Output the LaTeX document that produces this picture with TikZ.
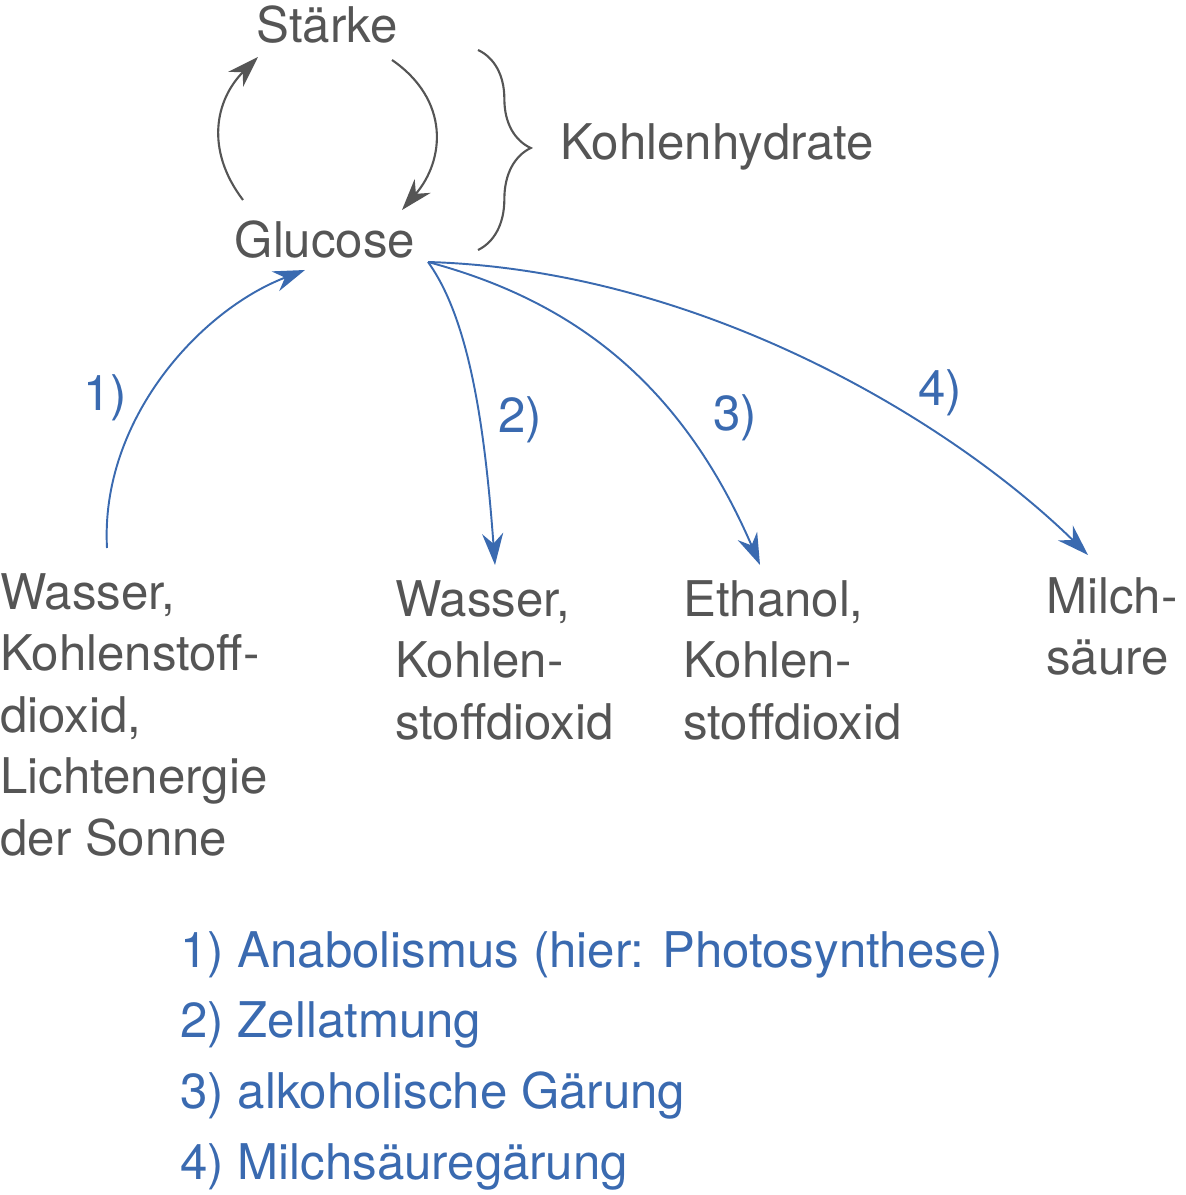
\documentclass[tikz,border=0pt]{standalone}
\usepackage{fontspec}
\setmainfont{TeX Gyre Heros}
\usetikzlibrary{arrows.meta,decorations.pathreplacing}
\definecolor{txtgray}{HTML}{555555}
\definecolor{pathblue}{HTML}{3A6AB0}
\tikzset{
  word/.style={text=txtgray, font=\fontsize{28}{35}\selectfont, inner sep=0pt},
  block/.style={word, align=left, anchor=north west},
  num/.style={text=pathblue, font=\fontsize{28}{35}\selectfont, inner sep=0pt},
  cycle/.style={draw=txtgray, line width=1.2pt, -{Stealth[length=18pt,width=12pt]}},
  path/.style={draw=pathblue, line width=1.1pt, -{Stealth[length=18pt,width=12pt]}}
}
\begin{document}
\begin{tikzpicture}[x=0.02cm, y=-0.02cm]
	\useasboundingbox (0,0) rectangle (1185,1195);

	\node[word] (staerke) at (327,25) {Stärke};
	\node[word] (glucose) at (325,240) {Glucose};
	\node[word, anchor=west] (kh) at (560,147) {Kohlenhydrate};

	\coordinate (c1) at (243,200);
	\coordinate (c2) at (258,57);
	\coordinate (c3) at (392,60);
	\coordinate (c4) at (402,210);
	\draw[cycle] (c1) .. controls (205,150) and (215,100) .. (c2);
	\draw[cycle] (c3) .. controls (450,100) and (445,160) .. (c4);

	\draw[draw=txtgray, line width=1.2pt, decorate,
	      decoration={brace, amplitude=30pt, aspect=0.49}] (478,50) -- (478,250);

	% Ausgangsstoffe und Produkte
	\node[block] (educt) at (0,573) {Wasser,\\Kohlenstoff-\\dioxid,\\Lichtenergie\\der Sonne};
	\node[block] (p2) at (395,580) {Wasser,\\Kohlen-\\stoffdioxid};
	\node[block] (p3) at (683,580) {Ethanol,\\Kohlen-\\stoffdioxid};
	\node[block] (p4) at (1046,577) {Milch-\\säure};

	\coordinate (s1) at (107,548);
	\coordinate (e1) at (305,270);
	\coordinate (g) at (428,262);
	\coordinate (e2) at (495,565);
	\coordinate (e3) at (760,565);
	\coordinate (e4) at (1088,555);
	\draw[path] (s1) .. controls (100,420) and (200,310) .. (e1);
	\draw[path] (g) .. controls (470,320) and (485,430) .. (e2);
	\draw[path] (g) .. controls (570,300) and (680,380) .. (e3);
	\draw[path] (g) .. controls (700,270) and (950,420) .. (e4);

	\node[num] (n1) at (105,398) {1)};
	\node[num] (n2) at (520,420) {2)};
	\node[num] (n3) at (735,418) {3)};
	\node[num] (n4) at (940,393) {4)};

	% Legende
	\node[num, anchor=west] (l1) at (180,955) {1) Anabolismus (hier: Photosynthese)};
	\node[num, anchor=west] (l2) at (180,1025) {2) Zellatmung};
	\node[num, anchor=west] (l3) at (180,1095) {3) alkoholische Gärung};
	\node[num, anchor=west] (l4) at (180,1167) {4) Milchsäuregärung};
\end{tikzpicture}
\end{document}
